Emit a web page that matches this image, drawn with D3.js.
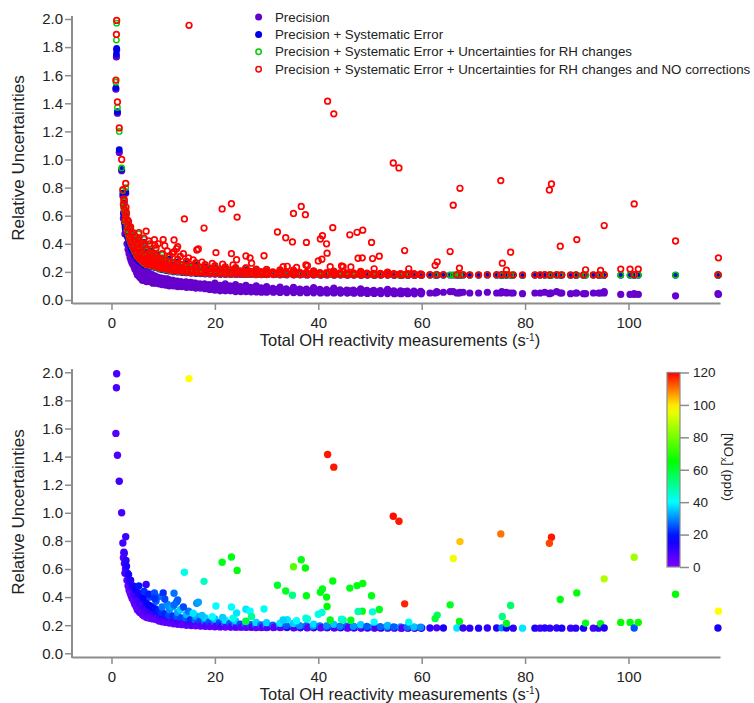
<!DOCTYPE html>
<html><head><meta charset="utf-8">
<script src="https://cdn.jsdelivr.net/npm/d3@7"></script>
<style>
body{margin:0;background:#fff}
svg text{font-family:Arial,"Liberation Sans",sans-serif;fill:#222}
</style>
</head><body>
<svg id="chart" width="754" height="703"></svg>
<script>
// ---------- tick labels / categories ----------
const xTicks = [0, 20, 40, 60, 80, 100];
const yTicks = [0, 0.2, 0.4, 0.6, 0.8, 1.0, 1.2, 1.4, 1.6, 1.8, 2.0];
const noxTicks = [0, 20, 40, 60, 80, 100, 120];
const legendLabels = [
  "Precision",
  "Precision + Systematic Error",
  "Precision + Systematic Error + Uncertainties for RH changes",
  "Precision + Systematic Error + Uncertainties for RH changes and NO corrections"
];
const xTitle = "Total OH reactivity measurements (s";
const yTitle = "Relative Uncertainties";

// ---------- data: [OH reactivity (s-1), precision, +systematic, +RH, +RH&NO (total), NOx (ppb)] ----------
const steepPoints = [
  [1.0, 1.78, 1.79, 1.97, 1.99, 8],
  [0.95, 1.73, 1.75, 1.85, 1.89, 8],
  [0.85, 1.50, 1.51, 1.55, 1.565, 6],
  [1.15, 1.33, 1.34, 1.37, 1.41, 7],
  [1.5, 1.05, 1.07, 1.20, 1.225, 9],
  [1.97, 0.92, 0.93, 0.94, 1.00, 8],
  [2.75, 0.76, 0.77, 0.80, 0.83, 10],
  [2.2, 0.74, 0.76, 0.78, 0.785, 8],
  [2.45, 0.69, 0.70, 0.71, 0.71, 12]
];

const bandPoints = [
  [2.3, 0.58, 0.62, 0.66, 0.68, 6], [2.5, 0.55, 0.58, 0.63, 0.64, 8], [2.4, 0.60, 0.66, 0.70, 0.72, 10],
  [2.7, 0.50, 0.55, 0.58, 0.60, 5], [2.8, 0.54, 0.60, 0.64, 0.66, 12], [2.6, 0.47, 0.52, 0.56, 0.57, 7],
  [3.0, 0.40, 0.46, 0.50, 0.52, 6], [3.1, 0.45, 0.52, 0.55, 0.57, 9], [2.9, 0.48, 0.57, 0.61, 0.62, 14], [3.2, 0.36, 0.44, 0.47, 0.48, 4],
  [3.4, 0.33, 0.41, 0.44, 0.45, 5], [3.5, 0.38, 0.47, 0.50, 0.51, 10], [3.3, 0.42, 0.52, 0.55, 0.56, 15], [3.6, 0.30, 0.39, 0.42, 0.43, 3],
  [3.8, 0.28, 0.37, 0.40, 0.41, 4], [3.9, 0.33, 0.43, 0.46, 0.47, 9], [3.7, 0.36, 0.48, 0.51, 0.52, 13], [4.0, 0.26, 0.35, 0.38, 0.39, 5],
  [4.3, 0.24, 0.33, 0.36, 0.37, 3], [4.4, 0.28, 0.38, 0.41, 0.42, 8], [4.2, 0.31, 0.44, 0.47, 0.48, 14], [4.5, 0.22, 0.32, 0.34, 0.35, 6],
  [4.8, 0.20, 0.30, 0.32, 0.33, 4], [4.9, 0.25, 0.36, 0.39, 0.40, 10], [4.7, 0.28, 0.41, 0.44, 0.45, 16], [5.0, 0.18, 0.29, 0.31, 0.31, 5], [4.9, 0.22, 0.33, 0.36, 0.37, 7],
  [5.3, 0.17, 0.28, 0.30, 0.30, 4], [5.4, 0.21, 0.33, 0.35, 0.36, 9], [5.2, 0.26, 0.39, 0.42, 0.43, 14], [5.5, 0.16, 0.27, 0.29, 0.29, 6], [5.3, 0.24, 0.44, 0.47, 0.48, 20],
  [5.8, 0.15, 0.27, 0.28, 0.285, 3], [5.9, 0.19, 0.31, 0.33, 0.34, 8], [5.7, 0.23, 0.37, 0.40, 0.41, 15], [6.0, 0.14, 0.26, 0.27, 0.275, 5],
  [6.3, 0.14, 0.25, 0.26, 0.265, 4], [6.4, 0.18, 0.29, 0.31, 0.32, 10], [6.2, 0.21, 0.35, 0.38, 0.39, 17], [6.5, 0.15, 0.26, 0.28, 0.29, 6], [6.3, 0.20, 0.41, 0.43, 0.44, 22],
  [6.8, 0.13, 0.245, 0.25, 0.255, 3], [6.9, 0.17, 0.28, 0.30, 0.30, 9], [6.7, 0.20, 0.33, 0.35, 0.36, 16], [7.0, 0.14, 0.26, 0.27, 0.275, 6],
  [7.4, 0.13, 0.24, 0.245, 0.25, 4], [7.5, 0.16, 0.27, 0.285, 0.29, 11], [7.3, 0.19, 0.31, 0.335, 0.34, 18], [7.6, 0.14, 0.25, 0.26, 0.265, 5], [7.4, 0.18, 0.36, 0.39, 0.40, 24],
  [8.0, 0.12, 0.235, 0.24, 0.245, 3], [8.1, 0.15, 0.26, 0.27, 0.28, 10], [7.9, 0.18, 0.30, 0.32, 0.33, 17], [8.2, 0.13, 0.245, 0.25, 0.255, 6],
  [8.6, 0.12, 0.23, 0.235, 0.24, 4], [8.7, 0.15, 0.25, 0.265, 0.27, 12], [8.5, 0.17, 0.29, 0.31, 0.315, 19], [8.8, 0.125, 0.24, 0.245, 0.25, 5], [8.6, 0.16, 0.33, 0.36, 0.37, 26],
  [9.2, 0.115, 0.22, 0.225, 0.23, 3], [9.3, 0.14, 0.245, 0.255, 0.26, 11], [9.1, 0.16, 0.28, 0.295, 0.30, 20], [9.4, 0.12, 0.225, 0.235, 0.24, 6],
  [9.8, 0.11, 0.215, 0.22, 0.225, 4], [9.9, 0.14, 0.24, 0.25, 0.255, 12], [9.7, 0.155, 0.27, 0.285, 0.29, 22], [10.0, 0.115, 0.22, 0.228, 0.235, 7], [9.8, 0.15, 0.30, 0.32, 0.33, 28],
  [10.5, 0.105, 0.21, 0.215, 0.22, 3], [10.6, 0.13, 0.235, 0.245, 0.25, 13], [10.4, 0.15, 0.26, 0.275, 0.28, 21], [10.7, 0.11, 0.215, 0.22, 0.228, 6],
  [11.2, 0.10, 0.205, 0.21, 0.215, 4], [11.3, 0.13, 0.23, 0.24, 0.245, 14], [11.1, 0.145, 0.255, 0.265, 0.27, 24], [11.4, 0.105, 0.21, 0.215, 0.222, 5], [11.2, 0.14, 0.29, 0.305, 0.31, 30],
  [12.0, 0.10, 0.20, 0.205, 0.21, 3], [12.1, 0.12, 0.225, 0.232, 0.238, 12], [11.9, 0.14, 0.25, 0.26, 0.265, 22], [12.2, 0.105, 0.205, 0.212, 0.218, 6],
  [12.8, 0.095, 0.198, 0.203, 0.207, 4], [12.9, 0.12, 0.22, 0.228, 0.233, 14], [12.7, 0.135, 0.245, 0.255, 0.26, 25], [13.0, 0.10, 0.205, 0.21, 0.215, 7], [12.8, 0.13, 0.27, 0.285, 0.29, 32],
  [13.6, 0.095, 0.195, 0.20, 0.204, 3], [13.7, 0.115, 0.215, 0.222, 0.228, 13], [13.5, 0.13, 0.24, 0.248, 0.252, 24], [13.8, 0.10, 0.20, 0.206, 0.21, 5],
  [14.5, 0.09, 0.193, 0.198, 0.20, 4], [14.6, 0.11, 0.21, 0.217, 0.222, 15], [14.4, 0.13, 0.235, 0.243, 0.247, 26], [14.7, 0.095, 0.198, 0.203, 0.207, 6], [14.5, 0.125, 0.26, 0.272, 0.277, 34],
  [15.4, 0.09, 0.19, 0.195, 0.198, 3], [15.5, 0.11, 0.208, 0.214, 0.218, 12], [15.3, 0.125, 0.228, 0.236, 0.24, 22], [15.6, 0.095, 0.195, 0.20, 0.204, 7],
  [16.3, 0.085, 0.188, 0.193, 0.196, 4], [16.4, 0.105, 0.205, 0.21, 0.214, 14], [16.2, 0.12, 0.225, 0.232, 0.236, 27], [16.5, 0.09, 0.192, 0.197, 0.20, 5], [16.3, 0.115, 0.25, 0.26, 0.265, 33],
  [17.2, 0.085, 0.187, 0.191, 0.194, 3], [17.3, 0.10, 0.20, 0.206, 0.21, 13], [17.1, 0.115, 0.22, 0.227, 0.231, 24], [17.4, 0.09, 0.19, 0.195, 0.198, 6],
  [18.1, 0.08, 0.185, 0.19, 0.192, 4], [18.2, 0.10, 0.198, 0.203, 0.207, 15], [18.0, 0.115, 0.215, 0.222, 0.226, 28], [18.3, 0.085, 0.188, 0.193, 0.196, 7], [18.1, 0.11, 0.238, 0.248, 0.252, 36],
  [19.0, 0.075, 0.184, 0.188, 0.19, 3], [19.1, 0.095, 0.196, 0.20, 0.204, 12], [18.9, 0.11, 0.212, 0.218, 0.222, 25], [19.2, 0.08, 0.187, 0.191, 0.194, 5],
  [20.0, 0.07, 0.183, 0.187, 0.189, 4], [20.1, 0.09, 0.194, 0.198, 0.202, 14], [19.9, 0.105, 0.21, 0.216, 0.22, 27], [20.2, 0.075, 0.186, 0.19, 0.192, 6], [20.0, 0.12, 0.232, 0.24, 0.245, 35],
  [21.0, 0.065, 0.182, 0.186, 0.188, 3], [21.1, 0.09, 0.192, 0.197, 0.20, 13], [20.9, 0.105, 0.207, 0.213, 0.217, 24], [21.2, 0.075, 0.185, 0.189, 0.191, 7],
  [22.0, 0.065, 0.182, 0.185, 0.187, 4], [22.1, 0.085, 0.19, 0.195, 0.198, 15], [21.9, 0.10, 0.205, 0.21, 0.214, 28], [22.2, 0.07, 0.184, 0.188, 0.19, 5], [22.0, 0.115, 0.225, 0.232, 0.236, 38],
  [23.0, 0.065, 0.181, 0.185, 0.187, 3], [23.1, 0.085, 0.19, 0.194, 0.197, 12], [22.9, 0.10, 0.203, 0.208, 0.212, 26], [23.2, 0.07, 0.183, 0.187, 0.189, 6],
  [24.0, 0.06, 0.181, 0.184, 0.186, 4], [24.1, 0.08, 0.189, 0.193, 0.196, 14], [23.9, 0.095, 0.20, 0.206, 0.21, 29], [24.2, 0.07, 0.183, 0.186, 0.188, 7], [24.0, 0.11, 0.22, 0.227, 0.231, 36],
  [25.0, 0.06, 0.18, 0.184, 0.186, 3], [25.1, 0.08, 0.188, 0.192, 0.195, 13], [24.9, 0.095, 0.20, 0.205, 0.208, 25], [25.2, 0.065, 0.182, 0.186, 0.188, 5],
  [26.0, 0.06, 0.18, 0.183, 0.185, 4], [26.1, 0.075, 0.187, 0.191, 0.194, 15], [25.9, 0.09, 0.198, 0.203, 0.206, 28], [26.2, 0.065, 0.182, 0.185, 0.187, 6], [26.0, 0.105, 0.215, 0.222, 0.226, 38],
  [27.0, 0.058, 0.18, 0.183, 0.185, 3], [27.1, 0.075, 0.186, 0.19, 0.193, 12], [26.9, 0.09, 0.196, 0.201, 0.204, 26], [27.2, 0.065, 0.181, 0.184, 0.187, 7],
  [28.0, 0.057, 0.179, 0.182, 0.184, 4], [28.1, 0.072, 0.186, 0.19, 0.192, 14], [27.9, 0.088, 0.195, 0.20, 0.203, 30], [28.2, 0.063, 0.181, 0.184, 0.186, 5], [28.0, 0.10, 0.21, 0.217, 0.22, 37],
  [29.0, 0.056, 0.179, 0.182, 0.184, 3], [29.1, 0.072, 0.185, 0.189, 0.191, 13], [28.9, 0.086, 0.194, 0.199, 0.202, 27], [29.2, 0.062, 0.18, 0.183, 0.186, 6],
  [30.0, 0.055, 0.179, 0.182, 0.184, 4], [30.1, 0.07, 0.185, 0.188, 0.19, 15], [29.9, 0.085, 0.193, 0.198, 0.201, 29], [30.2, 0.062, 0.18, 0.183, 0.185, 7], [30.0, 0.095, 0.208, 0.214, 0.218, 36],
  [31.3, 0.055, 0.179, 0.181, 0.183, 3], [31.4, 0.07, 0.184, 0.187, 0.19, 14], [31.2, 0.083, 0.192, 0.197, 0.20, 27], [31.5, 0.06, 0.18, 0.183, 0.185, 6],
  [32.6, 0.054, 0.178, 0.181, 0.183, 4], [32.7, 0.068, 0.184, 0.187, 0.189, 13], [32.5, 0.082, 0.191, 0.196, 0.199, 30], [32.8, 0.06, 0.18, 0.182, 0.185, 5], [32.6, 0.092, 0.205, 0.21, 0.214, 38],
  [33.9, 0.053, 0.178, 0.181, 0.183, 3], [34.0, 0.067, 0.183, 0.186, 0.188, 15], [33.8, 0.08, 0.19, 0.195, 0.198, 26],
  [35.2, 0.053, 0.178, 0.181, 0.182, 4], [35.3, 0.066, 0.183, 0.186, 0.188, 12], [35.1, 0.08, 0.19, 0.194, 0.197, 28], [35.4, 0.058, 0.179, 0.182, 0.184, 7], [35.2, 0.09, 0.203, 0.208, 0.212, 36],
  [36.5, 0.052, 0.178, 0.18, 0.182, 3], [36.6, 0.065, 0.182, 0.185, 0.187, 14], [36.4, 0.078, 0.189, 0.193, 0.196, 30],
  [37.8, 0.052, 0.177, 0.18, 0.182, 4], [37.9, 0.064, 0.182, 0.185, 0.187, 13], [37.7, 0.077, 0.189, 0.193, 0.196, 27], [38.0, 0.057, 0.179, 0.181, 0.183, 6],
  [39.1, 0.051, 0.177, 0.18, 0.182, 3], [39.2, 0.064, 0.182, 0.185, 0.187, 15], [39.0, 0.076, 0.188, 0.192, 0.195, 31], [39.1, 0.088, 0.20, 0.205, 0.208, 37],
  [40.4, 0.05, 0.177, 0.18, 0.181, 4], [40.5, 0.063, 0.181, 0.184, 0.186, 12], [40.3, 0.075, 0.188, 0.192, 0.194, 28], [40.6, 0.056, 0.178, 0.181, 0.183, 5],
  [41.7, 0.05, 0.177, 0.179, 0.181, 3], [41.8, 0.062, 0.181, 0.184, 0.186, 14], [41.6, 0.074, 0.187, 0.191, 0.194, 30],
  [43.0, 0.05, 0.177, 0.179, 0.181, 4], [43.1, 0.062, 0.181, 0.184, 0.186, 13], [42.9, 0.073, 0.187, 0.191, 0.193, 26], [43.2, 0.055, 0.178, 0.18, 0.182, 7], [43.0, 0.085, 0.198, 0.203, 0.206, 35],
  [44.3, 0.049, 0.177, 0.179, 0.181, 3], [44.4, 0.061, 0.18, 0.183, 0.185, 15], [44.2, 0.072, 0.186, 0.19, 0.193, 29],
  [45.6, 0.049, 0.176, 0.179, 0.18, 4], [45.7, 0.06, 0.18, 0.183, 0.185, 12], [45.5, 0.071, 0.186, 0.19, 0.192, 27], [45.8, 0.054, 0.178, 0.18, 0.182, 6],
  [46.9, 0.048, 0.176, 0.179, 0.18, 3], [47.0, 0.06, 0.18, 0.183, 0.185, 14], [46.8, 0.07, 0.185, 0.189, 0.192, 31],
  [48.2, 0.048, 0.176, 0.178, 0.18, 4], [48.3, 0.059, 0.18, 0.182, 0.184, 13], [48.1, 0.07, 0.185, 0.189, 0.191, 28], [48.4, 0.053, 0.177, 0.18, 0.181, 5], [48.2, 0.08, 0.195, 0.20, 0.203, 36],
  [49.5, 0.047, 0.176, 0.178, 0.18, 3], [49.6, 0.058, 0.179, 0.182, 0.184, 15], [49.4, 0.069, 0.185, 0.188, 0.191, 26],
  [50.8, 0.047, 0.176, 0.178, 0.18, 4], [50.9, 0.058, 0.179, 0.182, 0.184, 12], [50.7, 0.068, 0.184, 0.188, 0.19, 30], [51.0, 0.052, 0.177, 0.179, 0.181, 7],
  [52.1, 0.046, 0.176, 0.178, 0.179, 3], [52.2, 0.057, 0.179, 0.181, 0.183, 14], [52.0, 0.067, 0.184, 0.187, 0.19, 27],
  [53.4, 0.046, 0.176, 0.178, 0.179, 4], [53.5, 0.057, 0.179, 0.181, 0.183, 13], [53.3, 0.066, 0.183, 0.187, 0.189, 29], [53.4, 0.075, 0.192, 0.196, 0.199, 34],
  [54.7, 0.045, 0.176, 0.178, 0.179, 3], [54.8, 0.056, 0.178, 0.181, 0.183, 15], [54.6, 0.066, 0.183, 0.186, 0.188, 26],
  [56.0, 0.045, 0.175, 0.177, 0.179, 4], [56.1, 0.056, 0.178, 0.181, 0.182, 12], [55.9, 0.065, 0.183, 0.186, 0.188, 31], [56.2, 0.05, 0.177, 0.179, 0.18, 6],
  [57.3, 0.045, 0.175, 0.177, 0.179, 3], [57.4, 0.055, 0.178, 0.18, 0.182, 14], [57.2, 0.064, 0.182, 0.185, 0.187, 28],
  [58.6, 0.044, 0.175, 0.177, 0.178, 4], [58.7, 0.055, 0.178, 0.18, 0.182, 13], [58.5, 0.063, 0.182, 0.185, 0.187, 35],
  [59.9, 0.044, 0.175, 0.177, 0.178, 3], [60.0, 0.054, 0.177, 0.18, 0.181, 15], [59.8, 0.062, 0.181, 0.184, 0.186, 30]
];

const upperBandPoints = [
  [7.2, 0.18, 0.30, 0.32, 0.42, 20], [9.0, 0.16, 0.28, 0.30, 0.40, 27], [10.8, 0.15, 0.27, 0.28, 0.35, 30],
  [11.8, 0.14, 0.25, 0.27, 0.33, 33], [13.3, 0.13, 0.24, 0.25, 0.31, 36], [14.9, 0.12, 0.23, 0.24, 0.30, 28],
  [15.8, 0.12, 0.22, 0.23, 0.285, 38], [17.5, 0.11, 0.21, 0.22, 0.27, 35], [19.5, 0.10, 0.20, 0.21, 0.26, 40],
  [21.5, 0.10, 0.20, 0.21, 0.255, 36], [23.5, 0.09, 0.20, 0.20, 0.25, 42], [10.0, 0.15, 0.28, 0.30, 0.43, 22],
  [13.9, 0.12, 0.24, 0.25, 0.33, 24]
];

const highReactivityPoints = [
  [61.6, 0.05, 0.176, 0.178, 0.18, 12], [62.9, 0.06, 0.177, 0.179, 0.181, 8], [64.2, 0.055, 0.176, 0.178, 0.18, 14],
  [66.8, 0.05, 0.176, 0.178, 0.18, 38], [68.0, 0.055, 0.177, 0.179, 0.18, 10], [69.3, 0.05, 0.176, 0.178, 0.179, 12],
  [71.0, 0.05, 0.176, 0.178, 0.179, 14], [72.7, 0.055, 0.177, 0.179, 0.18, 11], [74.5, 0.05, 0.176, 0.178, 0.18, 13],
  [75.5, 0.06, 0.177, 0.179, 0.181, 30], [76.4, 0.055, 0.176, 0.178, 0.18, 16], [77.7, 0.05, 0.176, 0.178, 0.179, 12],
  [79.5, 0.045, 0.175, 0.177, 0.179, 38], [81.9, 0.05, 0.176, 0.178, 0.179, 14], [82.9, 0.05, 0.176, 0.178, 0.179, 10],
  [83.8, 0.055, 0.176, 0.178, 0.18, 13], [84.8, 0.05, 0.176, 0.178, 0.179, 12], [86.1, 0.06, 0.177, 0.179, 0.18, 11],
  [87.1, 0.05, 0.176, 0.178, 0.179, 14], [88.8, 0.045, 0.175, 0.177, 0.179, 10], [89.8, 0.05, 0.176, 0.178, 0.179, 12],
  [91.3, 0.045, 0.175, 0.177, 0.179, 15], [91.7, 0.045, 0.176, 0.178, 0.215, 62], [93.2, 0.05, 0.176, 0.178, 0.179, 8],
  [94.2, 0.05, 0.176, 0.178, 0.179, 12], [94.6, 0.05, 0.176, 0.178, 0.21, 63], [95.3, 0.06, 0.177, 0.179, 0.18, 14],
  [98.5, 0.04, 0.176, 0.178, 0.22, 65], [100.3, 0.04, 0.176, 0.178, 0.22, 64], [101.1, 0.04, 0.176, 0.178, 0.18, 25],
  [101.9, 0.04, 0.176, 0.178, 0.22, 66], [109.1, 0.03, 0.176, 0.178, 0.42, 65],
  [117.3, 0.045, 0.176, 0.178, 0.18, 15], [117.4, 0.04, 0.176, 0.178, 0.30, 98]
];

const outlierPoints = [
  [41.8, 0.06, 0.18, 0.183, 1.415, 118], [43.0, 0.065, 0.181, 0.184, 1.325, 118],
  [54.5, 0.055, 0.178, 0.18, 0.975, 119], [55.6, 0.05, 0.178, 0.18, 0.94, 118],
  [56.7, 0.06, 0.179, 0.181, 0.352, 117], [75.3, 0.05, 0.176, 0.178, 0.85, 110],
  [67.4, 0.055, 0.177, 0.179, 0.795, 103], [66.1, 0.06, 0.177, 0.179, 0.675, 96],
  [85.1, 0.05, 0.176, 0.178, 0.826, 118], [84.7, 0.045, 0.176, 0.178, 0.783, 114],
  [101.1, 0.045, 0.176, 0.178, 0.684, 86], [95.3, 0.05, 0.176, 0.178, 0.53, 88],
  [90.0, 0.05, 0.176, 0.178, 0.43, 64], [86.8, 0.05, 0.176, 0.178, 0.383, 63],
  [65.5, 0.06, 0.177, 0.179, 0.345, 62], [67.3, 0.05, 0.176, 0.178, 0.227, 63],
  [77.2, 0.05, 0.176, 0.178, 0.34, 55], [75.6, 0.055, 0.176, 0.178, 0.262, 52],
  [76.4, 0.05, 0.176, 0.178, 0.212, 62], [63.0, 0.055, 0.177, 0.179, 0.272, 55],
  [62.6, 0.05, 0.177, 0.179, 0.247, 60], [57.5, 0.05, 0.178, 0.18, 0.222, 42],
  [51.8, 0.06, 0.179, 0.181, 0.312, 62], [50.5, 0.055, 0.179, 0.181, 0.295, 45],
  [50.3, 0.06, 0.18, 0.182, 0.41, 63], [48.6, 0.065, 0.18, 0.182, 0.497, 64],
  [47.5, 0.06, 0.18, 0.182, 0.482, 63], [46.1, 0.065, 0.18, 0.183, 0.464, 63],
  [48.5, 0.055, 0.18, 0.182, 0.30, 64], [47.7, 0.06, 0.18, 0.182, 0.297, 48],
  [42.8, 0.065, 0.181, 0.183, 0.515, 64], [41.7, 0.06, 0.181, 0.183, 0.333, 65],
  [41.6, 0.065, 0.181, 0.183, 0.40, 64], [40.8, 0.06, 0.181, 0.184, 0.458, 62],
  [40.4, 0.065, 0.181, 0.184, 0.434, 63], [40.7, 0.06, 0.181, 0.184, 0.29, 44],
  [40.0, 0.065, 0.182, 0.184, 0.278, 42], [37.7, 0.07, 0.182, 0.185, 0.41, 63],
  [37.5, 0.065, 0.182, 0.185, 0.607, 64], [36.7, 0.07, 0.182, 0.185, 0.666, 63],
  [35.2, 0.065, 0.183, 0.186, 0.616, 76], [35.0, 0.07, 0.183, 0.186, 0.413, 52],
  [33.7, 0.07, 0.183, 0.186, 0.443, 62], [32.1, 0.075, 0.184, 0.187, 0.484, 61],
  [24.3, 0.08, 0.187, 0.19, 0.59, 64], [23.2, 0.085, 0.188, 0.191, 0.685, 63],
  [21.4, 0.085, 0.189, 0.192, 0.648, 63], [17.9, 0.10, 0.195, 0.20, 0.512, 46],
  [14.1, 0.11, 0.20, 0.205, 0.577, 42], [20.2, 0.09, 0.19, 0.194, 0.337, 40],
  [23.2, 0.085, 0.188, 0.192, 0.33, 40], [29.5, 0.075, 0.185, 0.188, 0.315, 41],
  [26.0, 0.08, 0.186, 0.19, 0.313, 38], [26.8, 0.08, 0.186, 0.19, 0.30, 40],
  [24.2, 0.08, 0.187, 0.19, 0.287, 38], [27.1, 0.075, 0.186, 0.189, 0.262, 50],
  [26.0, 0.075, 0.186, 0.189, 0.228, 60], [42.3, 0.06, 0.181, 0.183, 0.237, 62],
  [44.8, 0.06, 0.18, 0.183, 0.237, 52], [46.3, 0.06, 0.18, 0.182, 0.235, 63],
  [50.8, 0.055, 0.179, 0.181, 0.222, 40], [34.0, 0.065, 0.183, 0.186, 0.24, 38],
  [35.8, 0.065, 0.183, 0.185, 0.232, 40], [37.9, 0.065, 0.182, 0.185, 0.244, 42],
  [33.2, 0.07, 0.183, 0.186, 0.237, 36], [37.6, 0.065, 0.182, 0.185, 0.25, 44],
  [44.5, 0.06, 0.18, 0.183, 0.242, 45], [12.1, 0.13, 0.22, 0.23, 0.427, 28],
  [8.3, 0.16, 0.26, 0.27, 0.43, 25], [6.7, 0.20, 0.30, 0.31, 0.49, 10],
  [12.6, 0.13, 0.22, 0.23, 0.365, 26], [16.5, 0.11, 0.20, 0.21, 0.356, 30],
  [10.3, 0.14, 0.23, 0.24, 0.386, 24], [12.8, 0.12, 0.22, 0.23, 0.38, 26],
  [16.8, 0.105, 0.20, 0.21, 0.363, 32], [8.4, 0.15, 0.25, 0.26, 0.39, 22],
  [12.1, 0.13, 0.22, 0.225, 0.344, 27], [15.0, 0.10, 0.20, 0.205, 1.955, 98]
];

// ---------- build ----------
const rows = [...steepPoints, ...bandPoints, ...upperBandPoints, ...highReactivityPoints, ...outlierPoints]
  .map(r => ({oh: r[0], prec: r[1], sys: r[2], rh: r[3], tot: r[4], nox: r[5]}));

const svg = d3.select("#chart");
const axisColor = "#8c8c8c";

const x = d3.scaleLinear().domain([-7.64, 117.7]).range([72, 720]);
const yTop = d3.scaleLinear().domain([0, 2]).range([300, 19]);
const yBot = d3.scaleLinear().domain([0, 2]).range([653.3, 372.3]);
const color = d3.scaleLinear()
  .domain([0, 18, 40, 65, 98, 120])
  .range(["#8000ff", "#0000ff", "#00ffff", "#00ff00", "#ffff00", "#ff0000"])
  .clamp(true);

function drawAxes(y, axisY, yLineTop, yTitleCenter, xTitleBaseline) {
  const gx = svg.append("g").attr("transform", `translate(0,${axisY})`)
    .call(d3.axisBottom(x).tickValues(xTicks).tickSize(7).tickSizeOuter(0).tickPadding(7).tickFormat(d3.format("d")));
  const gy = svg.append("g").attr("transform", "translate(72,0)")
    .call(d3.axisLeft(y).tickValues(yTicks).tickSize(7).tickPadding(2).tickFormat(d3.format(".1f")));
  gy.select(".domain").remove();
  svg.append("line").attr("x1", 72).attr("x2", 72).attr("y1", yLineTop).attr("y2", axisY + 1)
    .attr("stroke", axisColor).attr("stroke-width", 2);
  [gx, gy].forEach(g => {
    g.selectAll(".domain").attr("stroke", axisColor).attr("stroke-width", 2);
    g.selectAll(".tick line").attr("stroke", axisColor).attr("stroke-width", 1.5);
    g.selectAll(".tick text").attr("fill", "#222").style("font-size", "15px")
      .style("font-family", "Arial, 'Liberation Sans', sans-serif");
  });
  svg.append("text").attr("transform", `translate(24,${yTitleCenter}) rotate(-90)`)
    .attr("text-anchor", "middle").style("font-size", "17px").text(yTitle);
  const t = svg.append("text").attr("x", 400).attr("y", xTitleBaseline)
    .attr("text-anchor", "middle").style("font-size", "16.5px");
  t.append("tspan").text(xTitle);
  t.append("tspan").attr("dy", -5.5).style("font-size", "10px").text("-1");
  t.append("tspan").attr("dy", 5.5).text(")");
}

// ---------- top panel ----------
drawAxes(yTop, 303, 16, 158, 346);
const topG = svg.append("g");
topG.selectAll("circle.p").data(rows).join("circle").attr("class", "p")
  .attr("cx", d => x(d.oh)).attr("cy", d => yTop(d.prec)).attr("r", 3.6).attr("fill", "#6600cc");
topG.selectAll("circle.s").data(rows).join("circle").attr("class", "s")
  .attr("cx", d => x(d.oh)).attr("cy", d => yTop(d.sys)).attr("r", 3.4).attr("fill", "#0000e6");
topG.selectAll("circle.h").data(rows).join("circle").attr("class", "h")
  .attr("cx", d => x(d.oh)).attr("cy", d => yTop(d.rh)).attr("r", 2.7)
  .attr("fill", "none").attr("stroke", "#00cc00").attr("stroke-width", 1.4);
topG.selectAll("circle.t").data(rows).join("circle").attr("class", "t")
  .attr("cx", d => x(d.oh)).attr("cy", d => yTop(d.tot)).attr("r", 2.8)
  .attr("fill", "none").attr("stroke", "#ff0000").attr("stroke-width", 1.7);

// legend
const legendStyles = [
  {fill: "#6600cc", stroke: "none"},
  {fill: "#0000e6", stroke: "none"},
  {fill: "none", stroke: "#00cc00"},
  {fill: "none", stroke: "#ff0000"}
];
const lg = svg.append("g");
legendLabels.forEach((lab, i) => {
  const cy = 17 + i * 17.4;
  const st = legendStyles[i];
  lg.append("circle").attr("cx", 258.6).attr("cy", cy)
    .attr("r", st.fill === "none" ? 2.7 : 3.5)
    .attr("fill", st.fill).attr("stroke", st.stroke).attr("stroke-width", 1.5);
  lg.append("text").attr("x", 275).attr("y", cy + 4.6).style("font-size", "13.3px").text(lab);
});

// ---------- bottom panel ----------
drawAxes(yBot, 657, 369, 512, 699.5);
svg.append("g").selectAll("circle").data(rows).join("circle")
  .attr("cx", d => x(d.oh)).attr("cy", d => yBot(d.tot)).attr("r", 3.7)
  .attr("fill", d => color(d.nox));

// colour bar
const cb = d3.scaleLinear().domain([0, 120]).range([567, 372.5]);
const defs = svg.append("defs");
const grad = defs.append("linearGradient").attr("id", "noxgrad")
  .attr("x1", 0).attr("y1", 1).attr("x2", 0).attr("y2", 0);
d3.range(0, 121, 5).forEach(v => grad.append("stop").attr("offset", v / 120).attr("stop-color", color(v)));
svg.append("rect").attr("x", 667).attr("y", cb(120)).attr("width", 13).attr("height", cb(0) - cb(120))
  .attr("fill", "url(#noxgrad)").attr("stroke", axisColor).attr("stroke-width", 1.2);
const gc = svg.append("g").attr("transform", "translate(680,0)")
  .call(d3.axisRight(cb).tickValues(noxTicks).tickSize(9).tickPadding(4).tickFormat(d3.format("d")));
gc.select(".domain").remove();
gc.selectAll(".tick line").attr("stroke", axisColor).attr("stroke-width", 1.5);
gc.selectAll(".tick text").attr("fill", "#222").style("font-size", "13.5px")
  .style("font-family", "Arial, 'Liberation Sans', sans-serif");
const cl = svg.append("text").attr("transform", "translate(724,467) rotate(90)")
  .attr("text-anchor", "middle").style("font-size", "13.5px");
cl.append("tspan").text("[NO");
cl.append("tspan").attr("dy", 3).style("font-size", "9.5px").text("x");
cl.append("tspan").attr("dy", -3).text("] (ppb)");
</script>
</body></html>
